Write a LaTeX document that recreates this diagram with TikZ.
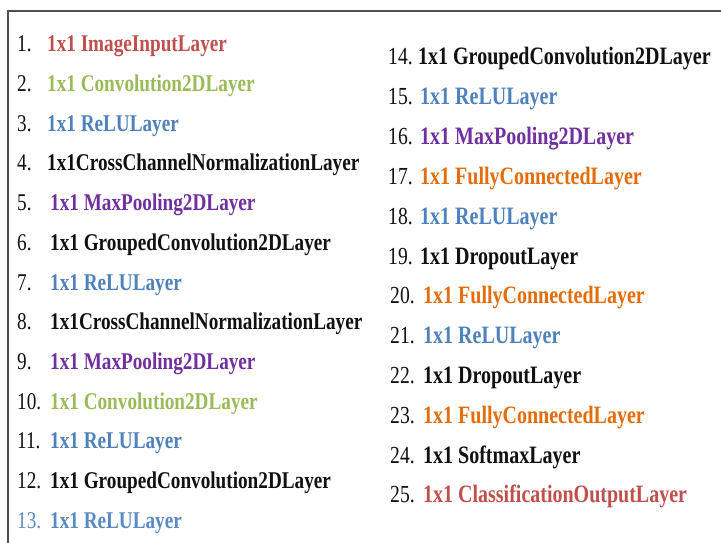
\documentclass[tikz,border=0pt]{standalone}
\usepackage{fontspec}
\setmainfont{Liberation Serif}[FakeStretch=0.80]
\definecolor{cred}{HTML}{C0504D}
\definecolor{cgreen}{HTML}{9BBB59}
\definecolor{cblue}{HTML}{4F81BD}
\definecolor{clblue}{HTML}{5A8AC6}
\definecolor{cpurple}{HTML}{7030A0}
\definecolor{corange}{HTML}{E46C0A}
\definecolor{cblack}{HTML}{111111}
\definecolor{cframe}{HTML}{505050}
\tikzset{
  numL/.style={anchor=base west, inner sep=0pt, text=cblack, font=\fontsize{24}{28}\selectfont},
  txtL/.style={anchor=base west, inner sep=0pt, font=\fontsize{24}{28}\selectfont\bfseries},
  numR/.style={anchor=base west, inner sep=0pt, text=cblack, font=\fontsize{24.5}{29}\selectfont},
  txtR/.style={anchor=base west, inner sep=0pt, font=\fontsize{25}{29}\selectfont\bfseries},
  frameline/.style={draw=cframe, line width=1.5pt}
}
\begin{document}
\begin{tikzpicture}[x=1pt,y=-1pt]
\useasboundingbox (0,0) rectangle (721,543);
\fill[white] (0,0) rectangle (721,543);
\coordinate (fl) at (8,543);
\coordinate (fc) at (8,11);
\coordinate (fr) at (721,11);
\draw[frameline] (fl) -- (fc) -- (fr);
% left column
\node[numL] (n1) at (17,52.0) {1.};
\node[txtL, text=cred] (t1) at (47,52.0) {1x1 ImageInputLayer};
\node[numL] (n2) at (17,91.7) {2.};
\node[txtL, text=cgreen] (t2) at (47,91.7) {1x1 Convolution2DLayer};
\node[numL] (n3) at (17,131.3) {3.};
\node[txtL, text=cblue] (t3) at (47,131.3) {1x1 ReLULayer};
\node[numL] (n4) at (17,171.0) {4.};
\node[txtL, text=cblack] (t4) at (47,171.0) {1x1CrossChannelNormalizationLayer};
\node[numL] (n5) at (17,210.7) {5.};
\node[txtL, text=cpurple] (t5) at (50,210.7) {1x1 MaxPooling2DLayer};
\node[numL] (n6) at (17,250.4) {6.};
\node[txtL, text=cblack] (t6) at (50,250.4) {1x1 GroupedConvolution2DLayer};
\node[numL] (n7) at (17,290.0) {7.};
\node[txtL, text=cblue] (t7) at (50,290.0) {1x1 ReLULayer};
\node[numL] (n8) at (17,329.7) {8.};
\node[txtL, text=cblack] (t8) at (50,329.7) {1x1CrossChannelNormalizationLayer};
\node[numL] (n9) at (17,369.4) {9.};
\node[txtL, text=cpurple] (t9) at (50,369.4) {1x1 MaxPooling2DLayer};
\node[numL] (n10) at (17,409.0) {10.};
\node[txtL, text=cgreen] (t10) at (50,409.0) {1x1 Convolution2DLayer};
\node[numL] (n11) at (17,448.7) {11.};
\node[txtL, text=cblue] (t11) at (50,448.7) {1x1 ReLULayer};
\node[numL] (n12) at (17,488.4) {12.};
\node[txtL, text=cblack] (t12) at (50,488.4) {1x1 GroupedConvolution2DLayer};
\node[numL, text=clblue] (n13) at (17,528.0) {13.};
\node[txtL, text=clblue] (t13) at (50,528.0) {1x1 ReLULayer};
% right column
\node[numR] (n14) at (388,65.0) {14.};
\node[txtR, text=cblack] (t14) at (418,65.0) {1x1 GroupedConvolution2DLayer};
\node[numR] (n15) at (388,104.8) {15.};
\node[txtR, text=cblue] (t15) at (420,104.8) {1x1 ReLULayer};
\node[numR] (n16) at (388,144.6) {16.};
\node[txtR, text=cpurple] (t16) at (420,144.6) {1x1 MaxPooling2DLayer};
\node[numR] (n17) at (388,184.4) {17.};
\node[txtR, text=corange] (t17) at (420,184.4) {1x1 FullyConnectedLayer};
\node[numR] (n18) at (388,224.2) {18.};
\node[txtR, text=cblue] (t18) at (420,224.2) {1x1 ReLULayer};
\node[numR] (n19) at (388,264.0) {19.};
\node[txtR, text=cblack] (t19) at (420,264.0) {1x1 DropoutLayer};
\node[numR] (n20) at (390,303.8) {20.};
\node[txtR, text=corange] (t20) at (423,303.8) {1x1 FullyConnectedLayer};
\node[numR] (n21) at (390,343.6) {21.};
\node[txtR, text=cblue] (t21) at (423,343.6) {1x1 ReLULayer};
\node[numR] (n22) at (390,383.4) {22.};
\node[txtR, text=cblack] (t22) at (423,383.4) {1x1 DropoutLayer};
\node[numR] (n23) at (390,423.2) {23.};
\node[txtR, text=corange] (t23) at (423,423.2) {1x1 FullyConnectedLayer};
\node[numR] (n24) at (390,463.0) {24.};
\node[txtR, text=cblack] (t24) at (423,463.0) {1x1 SoftmaxLayer};
\node[numR] (n25) at (390,502.8) {25.};
\node[txtR, text=cred] (t25) at (423,502.8) {1x1 ClassificationOutputLayer};
\end{tikzpicture}
\end{document}
